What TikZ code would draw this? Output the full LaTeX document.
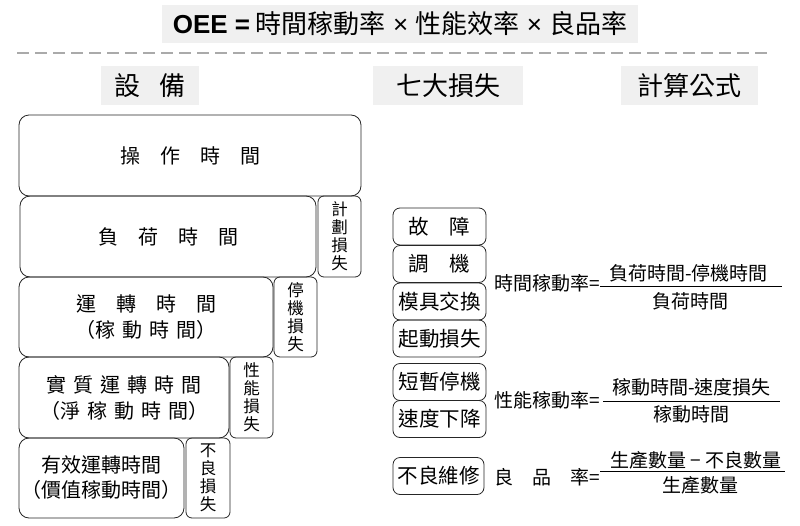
\documentclass[tikz,border=0pt]{standalone}
\usepackage{fontspec}
\setmainfont{Noto Sans CJK TC}
\newfontfamily\latinfont{Liberation Sans}
\definecolor{hdrgray}{RGB}{240,240,240}
\definecolor{linegray}{RGB}{170,170,170}
\newcommand{\wsp}{\hspace{7pt}}

\begin{document}
\begin{tikzpicture}[x=1pt,y=-1pt,
    every node/.style={inner sep=0pt},
    header/.style={fill=hdrgray,minimum height=39pt,font=\fontsize{26}{30}\selectfont},
    timebox/.style={draw=black!85,line width=0.8pt,rounded corners=10pt,align=center,font=\fontsize{20}{26}\selectfont},
    lossbox/.style={draw=black!85,line width=0.8pt,rounded corners=6pt,minimum width=43pt,align=center,font=\fontsize{16.5}{18}\selectfont},
    cause/.style={draw=black!85,line width=0.8pt,rounded corners=7pt,minimum width=93pt,minimum height=37pt,font=\fontsize{20.5}{24}\selectfont},
    formula/.style={font=\fontsize{19}{22}\selectfont},
    fracline/.style={line width=0.9pt}]
    \useasboundingbox (0,0) rectangle (800,525);
    % title and dashed rule
    \node[fill=hdrgray,minimum width=476pt,minimum height=38pt,font=\fontsize{26}{30}\selectfont] (title) at (400,24) {{\latinfont\bfseries OEE =} 時間稼動率{\latinfont\ ×\ }性能效率{\latinfont\ ×\ }良品率};
    \draw[linegray,line width=1.5pt,dash pattern=on 12pt off 6pt] (17,53) -- (768,53);
    % column headers
    \node[header,minimum width=98pt] (hequip) at (150,85.5) {設\hspace{0.75em}備};
    \node[header,minimum width=150pt] (hloss) at (448,85.5) {七大損失};
    \node[header,minimum width=137pt] (hcalc) at (689.5,85.5) {計算公式};
    % equipment time
    \node[timebox,minimum width=342pt,minimum height=81pt] (optime) at (190,155.5) {操　作　時　間};
    \node[timebox,minimum width=296pt,minimum height=81pt] (loadtime) at (168,236.5) {負　荷　時　間};
    \node[lossbox,minimum height=81pt] (planloss) at (339.5,236.5) {計\\劃\\損\\失};
    \node[timebox,minimum width=254pt,minimum height=80pt] (runtime) at (146,317) {運　轉　時　間\\（稼\wsp 動\wsp 時\wsp 間）};
    \node[lossbox,minimum height=80pt] (stoploss) at (295.5,317) {停\\機\\損\\失};
    \node[timebox,minimum width=210pt,minimum height=81pt] (nettime) at (124,397.5) {實\wsp 質\wsp 運\wsp 轉\wsp 時\wsp 間\\（淨\wsp 稼\wsp 動\wsp 時\wsp 間）};
    \node[lossbox,minimum height=81pt] (perfloss) at (251.5,397.5) {性\\能\\損\\失};
    \node[timebox,minimum width=165pt,minimum height=80pt,font=\fontsize{20}{25}\selectfont] (valtime) at (101.5,478) {有效運轉時間\\（價值稼動時間）};
    \node[lossbox,minimum width=44pt,minimum height=80pt] (qualloss) at (208,478) {不\\良\\損\\失};
    % seven losses
    \node[cause] (breakdown) at (439.5,226.5) {故　障};
    \node[cause] (setup) at (439.5,264) {調　機};
    \node[cause] (diechange) at (439.5,301.5) {模具交換};
    \node[cause] (startup) at (439.5,338.5) {起動損失};
    \node[cause] (minorstop) at (439.5,382) {短暫停機};
    \node[cause] (speeddrop) at (439.5,419) {速度下降};
    \node[cause,minimum width=91pt] (defect) at (438.5,476) {不良維修};
    % formulas
    \node[formula,anchor=west] (avail) at (494,283) {時間稼動率=};
    \draw[fracline] (600,286) -- (782,286);
    \node[formula] (availnum) at (688.5,273) {負荷時間-停機時間};
    \node[formula] (availden) at (690.5,301.5) {負荷時間};
    \node[formula,anchor=west] (perf) at (494,400) {性能稼動率=};
    \draw[fracline] (603,401) -- (780,401);
    \node[formula] (perfnum) at (691.5,387) {稼動時間-速度損失};
    \node[formula] (perfden) at (691.5,414) {稼動時間};
    \node[formula,anchor=west] (qual) at (494,477) {良　品　率=};
    \draw[fracline] (600,471) -- (785,471);
    \node[formula] (qualnum) at (696,460) {生產數量 − 不良數量};
    \node[formula] (qualden) at (700,485) {生產數量};
\end{tikzpicture}
\end{document}
